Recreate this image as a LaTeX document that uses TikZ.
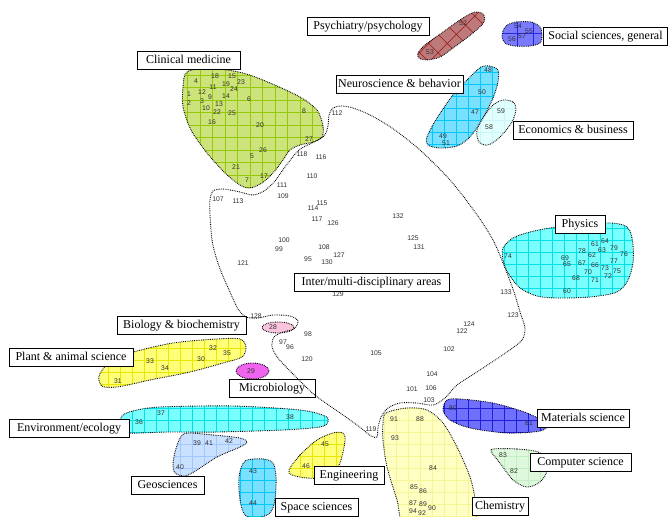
\documentclass[tikz,border=0pt]{standalone}
\usepackage{fontspec}
\setmainfont{Liberation Serif}
\newfontfamily\numfont{Liberation Sans}
\begin{document}
\begin{tikzpicture}[x=1pt,y=-1pt,
  area/.style={draw=black, line width=0.8pt, fill=white, inner xsep=2pt, inner ysep=0pt,
    minimum height=18pt, text height=9pt, text depth=2.6pt, font=\fontsize{12}{12}\selectfont},
  num/.style={inner sep=0pt, text=black!82, font=\numfont\fontsize{6.8}{7}\selectfont},
  border/.style={draw=black, line width=0.9pt, dash pattern=on 0.8pt off 1.0pt}]
\useasboundingbox (0,0) rectangle (670,517);

% filled cluster: fill colour, grid options, outline points
\newcommand\blob[3]{%
  \begin{scope}
    \fill[#1] plot[smooth cycle] coordinates {#3};
    \clip plot[smooth cycle] coordinates {#3};
    \draw[line width=0.5pt, #2] (0,517) grid (670,0);
  \end{scope}
  \path[border] plot[smooth cycle] coordinates {#3};
}

% Clinical medicine
\blob{fill={rgb,255:red,204;green,226;blue,122}}{draw={rgb,255:red,150;green,200;blue,10}, step=12.5pt}
 {(187,72) (210,68) (243,73) (270,83) (300,97) (317,110) (323,126) (322,137) (313,142) (300,145) (290,150) (283,160) (273,173) (262,183) (250,188) (240,185) (225,173) (207,153) (191,130) (183,107) (183,87)}
% Psychiatry/psychology
\blob{fill={rgb,255:red,190;green,122;blue,122}}{draw={rgb,255:red,150;green,20;blue,20}, step=13pt, rotate around={45:(450,35)}}
 {(418,53) (425,45) (443,32) (463,18) (475,12) (483,14) (484,22) (473,33) (453,48) (440,57) (427,60) (419,58)}
% Social sciences, general
\blob{fill={rgb,255:red,122;green,122;blue,255}}{draw={rgb,255:red,40;green,40;blue,220}, step=16pt, shift={(5,1)}}
 {(506,26) (516,22) (531,22) (540,27) (542,35) (540,43) (530,46) (515,46) (505,43) (502,35)}
% Neuroscience & behavior
\blob{fill={rgb,255:red,122;green,224;blue,255}}{draw={rgb,255:red,0;green,200;blue,255}, step=12pt}
 {(481,67) (489,66) (498,70) (498,82) (493,98) (483,118) (470,137) (457,146) (440,148) (428,145) (427,137) (437,118) (453,95) (470,77)}
% Economics & business
\blob{fill={rgb,255:red,226;green,255;blue,255}}{draw={rgb,255:red,205;green,245;blue,245}, step=12pt}
 {(503,100) (513,102) (516,109) (512,122) (500,137) (488,145) (479,142) (477,130) (485,115) (493,105)}
% Physics
\blob{fill={rgb,255:red,122;green,255;blue,255}}{draw={rgb,255:red,0;green,225;blue,235}, step=12pt}
 {(503,248) (513,238) (530,232) (557,227) (605,223) (623,225) (630,231) (633,245) (633,263) (628,280) (617,292) (590,297) (557,298) (537,296) (520,288) (508,273) (503,260)}
% Plant & animal science
\blob{fill={rgb,255:red,255;green,255;blue,122}}{draw={rgb,255:red,232;green,232;blue,0}, step=12pt}
 {(99,376) (108,364) (130,353) (173,343) (217,339) (240,339) (246,347) (242,357) (223,363) (190,372) (150,380) (117,387) (102,386)}
% Environment/ecology
\blob{fill={rgb,255:red,122;green,255;blue,255}}{draw={rgb,255:red,0;green,225;blue,235}, step=12pt}
 {(122,416) (133,411) (160,407) (233,406) (300,410) (325,416) (328,422) (320,427) (283,430) (217,432) (167,432) (127,433) (120,427)}
% Geosciences
\blob{fill={rgb,255:red,202;green,224;blue,255}}{draw={rgb,255:red,160;green,200;blue,255}, step=12pt}
 {(187,433) (213,435) (240,438) (247,442) (240,447) (217,457) (197,470) (185,476) (175,473) (173,465) (175,452) (180,438)}
% Space sciences
\blob{fill={rgb,255:red,122;green,224;blue,255}}{draw={rgb,255:red,0;green,200;blue,255}, step=12pt}
 {(245,461) (263,459) (273,463) (276,477) (275,500) (270,513) (257,518) (245,515) (240,500) (239,477)}
% Engineering
\blob{fill={rgb,255:red,255;green,255;blue,122}}{draw={rgb,255:red,232;green,232;blue,0}, step=12pt}
 {(289,470) (300,455) (317,440) (333,433) (343,433) (345,441) (340,463) (330,477) (307,478) (292,475)}
% Materials science
\blob{fill={rgb,255:red,112;green,112;blue,255}}{draw={rgb,255:red,30;green,30;blue,220}, step=12pt}
 {(447,400) (460,399) (493,403) (527,413) (547,424) (540,431) (507,433) (470,428) (450,420) (443,410)}
% Computer science
\blob{fill={rgb,255:red,222;green,248;blue,222}}{draw={rgb,255:red,195;green,238;blue,195}, step=12pt}
 {(493,449) (517,449) (540,453) (547,470) (540,482) (527,487) (513,480) (500,463) (492,453)}
% Chemistry
\blob{fill={rgb,255:red,255;green,255;blue,196}}{draw={rgb,255:red,245;green,245;blue,150}, step=12pt}
 {(386,413) (407,408) (427,410) (443,423) (457,447) (470,477) (475,500) (474,525) (440,530) (405,528) (397,500) (387,467) (383,440) (383,423)}

% Biology & biochemistry / Microbiology
\path[border, fill={rgb,255:red,250;green,196;blue,222}] (278,327.5) ellipse [x radius=16pt, y radius=5.5pt];
\path[border, fill={rgb,255:red,238;green,100;blue,238}] (252.5,371) ellipse [x radius=16.5pt, y radius=8pt];

% item numbers
\foreach \t/\x/\y in {4/196/81, 18/215/76, 15/232/76, 23/241/82, 19/226/84, 24/234/89, 11/213/87,
  12/202/92, 1/189/94, 14/226/96, 9/210/97, 3/202/101, 6/249/99, 2/189/103, 13/219/104, 10/206/108,
  22/217/112, 25/232/113, 8/304/111, 16/212/122, 20/260/125, 27/309/139, 26/263/150, 5/252/156,
  21/236/167, 17/264/176, 7/247/180,
  52/463/23, 53/430/52, 54/518/26, 55/529/31, 57/522/36, 56/512/39,
  48/488/70, 50/482/92, 47/475/112, 49/443/136, 51/446/143, 59/501/111, 58/489/127,
  61/595/244, 64/605/241, 63/602/250, 79/614/248, 78/582/251, 76/624/254, 62/592/255, 69/565/258,
  77/614/261, 65/567/264, 67/582/263, 66/595/265, 73/605/268, 75/617/271, 70/588/272, 72/608/276,
  68/576/278, 71/595/280, 60/567/291, 74/508/256,
  112/337/113, 118/302/154, 116/321/157, 110/312/176, 111/282/185, 109/283/196, 107/218/199,
  113/238/201, 115/322/203, 114/313/208, 117/317/219, 126/333/223, 132/398/216, 125/413/238,
  131/419/247, 100/284/240, 99/279/249, 108/324/247, 127/339/255, 95/308/259, 130/327/262,
  121/243/263, 129/338/294, 133/506/292, 123/513/315, 124/469/324, 122/462/331, 102/449/349,
  105/376/353, 104/432/374, 101/412/389, 106/431/388, 103/429/400, 119/371/429,
  128/256/316, 98/308/334, 97/283/342, 96/290/347, 120/307/359,
  28/273/327, 29/251/371,
  32/213/348, 35/227/353, 33/150/361, 30/201/359, 34/165/368, 31/118/381,
  36/139/422, 37/161/413, 38/290/417, 39/197/443, 41/209/443, 42/229/441, 40/180/467,
  43/253/471, 44/253/503, 45/325/444, 46/306/466, 80/453/408, 81/529/423, 83/503/455, 82/514/471,
  91/394/419, 88/420/419, 93/395/438, 84/433/468, 85/414/487, 86/423/491, 87/413/503, 89/423/504,
  90/432/508, 94/413/511, 92/422/513}
  \node[num] (n\t) at (\x,\y) {\t};

% field labels
\node[area, minimum width=122pt] (psy) at (368,26.5) {Psychiatry/psychology};
\node[area, minimum width=124pt] (soc) at (605.5,36) {Social sciences, general};
\node[area, minimum width=103pt] (cli) at (188.5,60) {Clinical medicine};
\node[area, minimum width=127pt] (neu) at (399.5,84) {Neuroscience \& behavior};
\node[area, minimum width=120pt] (eco) at (573,130.5) {Economics \& business};
\node[area, minimum width=50pt] (phy) at (580,224) {Physics};
\node[area, minimum width=155pt] (int) at (371.5,282.5) {Inter/multi-disciplinary areas};
\node[area, minimum width=129pt] (bio) at (181.5,325) {Biology \& biochemistry};
\node[area, minimum width=124pt] (pla) at (71,357) {Plant \& animal science};
\node[area, minimum width=86pt] (mic) at (272,388) {Microbiology};
\node[area, minimum width=120pt] (env) at (69,428) {Environment/ecology};
\node[area, minimum width=73pt] (geo) at (167.5,485) {Geosciences};
\node[area, minimum width=83pt] (spa) at (316.5,507) {Space sciences};
\node[area, minimum width=70pt] (eng) at (349,475.5) {Engineering};
\node[area, minimum width=92pt] (mat) at (583,418) {Materials science};
\node[area, minimum width=101pt] (com) at (580.5,462.5) {Computer science};
\node[area, minimum width=56pt] (che) at (500,506) {Chemistry};

% outline of the inter/multi-disciplinary region
\path[border] plot[smooth cycle] coordinates {
  (333,108) (341,106) (353,108) (370,115) (392,128) (420,150) (450,180) (475,212) (493,240)
  (505,268) (514,292) (520,312) (525,328) (522,340) (507,352) (477,372) (457,385) (445,398)
  (433,405) (417,403) (400,403) (388,408) (381,417) (378,428) (377,437) (371,436) (361,428)
  (343,415) (316,396) (303,384) (290,371) (278,358) (272,347) (274,337) (283,332) (294,329)
  (298,321) (290,316) (273,315) (258,318) (246,317) (238,309) (230,292) (222,274) (216,257)
  (212,240) (210,215) (210,199) (213,191) (223,189) (240,192) (253,195) (264,191) (275,181)
  (285,167) (299,150) (314,142) (324,136) (328,126) (329,115)};
\end{tikzpicture}
\end{document}
